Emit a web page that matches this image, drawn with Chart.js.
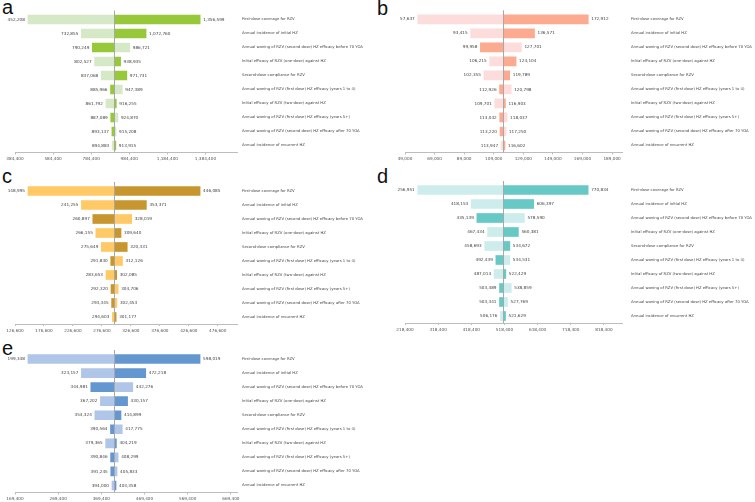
<!DOCTYPE html>
<html>
<head>
<meta charset="utf-8">
<script src="https://cdn.jsdelivr.net/npm/chart.js@4"></script>
<style>
  body { margin: 0; background: #fff; }
  #wrap { position: relative; width: 755px; height: 502px; overflow: hidden; }
  canvas { position: absolute; }
  .tag { position: absolute; font-family: "Liberation Sans", Arial, sans-serif; font-size: 20px; line-height: 20px; color: #111; }
</style>
</head>
<body>
<div id="wrap">
  <div class="tag" style="left:2px;top:-3px">a</div>
  <div class="tag" style="left:377px;top:-2px">b</div>
  <div class="tag" style="left:2px;top:166px">c</div>
  <div class="tag" style="left:377px;top:166px">d</div>
  <div class="tag" style="left:2px;top:338px">e</div>
</div>
<script>
// categories (same for every panel)
const categories = [
  "First-dose coverage for RZV",
  "Annual incidence of initial HZ",
  "Annual waning of RZV (second dose) HZ efficacy before 70 YOA",
  "Initial efficacy of RZV (one-dose) against HZ",
  "Second-dose compliance for RZV",
  "Annual waning of RZV (first dose) HZ efficacy (years 1 to 4)",
  "Initial efficacy of RZV (two-dose) against HZ",
  "Annual waning of RZV (first dose) HZ efficacy (years 5+)",
  "Annual waning of RZV (second dose) HZ efficacy after 70 YOA",
  "Annual incidence of recurrent HZ"
];
// which side carries the dark colour (true = left bar dark)
const leftDark = [false, false, true, false, false, true, false, true, true, false];

// panel a
const aLow  = [452208, 732855, 790249, 802527, 837068, 885966, 861792, 887089, 893137, 894883];
const aHigh = [1356599, 1072760, 986721, 938935, 971731, 947389, 916255, 924870, 915208, 913915];
const aBase = 904400;
const aTicks = [384400, 584400, 784400, 984400, 1184400, 1384400];

// panel b
const bLow  = [57637, 93415, 99958, 106215, 102355, 112926, 109701, 113032, 113220, 113947];
const bHigh = [172912, 136571, 127701, 124104, 119789, 120798, 116903, 118037, 117250, 116602];
const bBase = 115270;
const bTicks = [49000, 69000, 89000, 109000, 129000, 149000, 169000, 189000];

// panel c
const cLow  = [148995, 241255, 260897, 266155, 275649, 291830, 283653, 292320, 293345, 294603];
const cHigh = [446085, 353371, 328019, 309640, 320331, 312126, 302085, 304706, 302453, 301177];
const cBase = 297500;
const cTicks = [126600, 176600, 226600, 276600, 326600, 376600, 426600, 476600];

// panel d
const dLow  = [256951, 418153, 435139, 467434, 458693, 492439, 487014, 503489, 503341, 506176];
const dHigh = [770834, 606397, 578590, 560381, 534672, 534531, 522429, 538859, 527769, 521629];
const dBase = 514000;
const dTicks = [218400, 318400, 418400, 518400, 618400, 718400, 818400];

// panel e
const eLow  = [199348, 323157, 344981, 367202, 354324, 390564, 379365, 390846, 391245, 394000];
const eHigh = [598019, 472218, 442276, 430157, 414899, 417775, 404219, 408299, 405833, 403358];
const eBase = 398700;
const eTicks = [169400, 269400, 369400, 469400, 569400, 669400];

const fmt = v => Math.round(v).toLocaleString("en-US");
const smallFont = { family: "DejaVu Sans", size: 4.2 };

// labels at the ends of the bars + base line
const tornadoPlugin = {
  id: "tornado",
  afterDatasetsDraw(chart, args, opts) {
    const ctx = chart.ctx;
    const x = chart.scales.x;
    const area = chart.chartArea;
    const bx = Math.round(x.getPixelForValue(opts.base)) + 0.5;
    ctx.save();
    ctx.strokeStyle = "#a8a8a8";
    ctx.lineWidth = 1;
    ctx.beginPath();
    ctx.moveTo(bx, area.top - 2);
    ctx.lineTo(bx, area.bottom);
    ctx.stroke();

    ctx.font = "4.2px 'DejaVu Sans'";
    ctx.fillStyle = "#444";
    ctx.textBaseline = "middle";
    chart.getDatasetMeta(0).data.forEach((bar, i) => {
      ctx.textAlign = "right";
      ctx.fillText(fmt(opts.low[i]), x.getPixelForValue(opts.low[i]) - 3, bar.y);
    });
    chart.getDatasetMeta(1).data.forEach((bar, i) => {
      ctx.textAlign = "left";
      ctx.fillText(fmt(opts.high[i]), x.getPixelForValue(opts.high[i]) + 3, bar.y);
    });
    ctx.restore();
  }
};

function makePanel(p) {
  const cv = document.createElement("canvas");
  cv.width = p.w; cv.height = p.h;
  cv.style.left = p.left + "px"; cv.style.top = p.top + "px";
  document.getElementById("wrap").appendChild(cv);

  new Chart(cv.getContext("2d"), {
    type: "bar",
    data: {
      labels: categories,
      datasets: [
        {
          data: p.low.map(v => [v, p.base]),
          backgroundColor: leftDark.map(d => d ? p.dark : p.light),
          barThickness: 9, grouped: false
        },
        {
          data: p.high.map(v => [p.base, v]),
          backgroundColor: leftDark.map(d => d ? p.light : p.dark),
          barThickness: 9, grouped: false
        }
      ]
    },
    options: {
      indexAxis: "y",
      responsive: false,
      animation: false,
      devicePixelRatio: 1,
      layout: { padding: { left: p.cl, top: p.ct, right: 0, bottom: 0 } },
      plugins: {
        legend: { display: false },
        tooltip: { enabled: false },
        tornado: { base: p.base, low: p.low, high: p.high }
      },
      scales: {
        x: {
          min: p.ticks[0], max: p.max,
          afterBuildTicks: s => { s.ticks = p.ticks.map(v => ({ value: v })); },
          afterFit: s => { s.height = p.h - p.cb; },
          grid: { drawOnChartArea: false, tickLength: 2, color: "#bdbdbd" },
          border: { color: "#bdbdbd" },
          ticks: { font: smallFont, color: "#555", padding: 2, maxRotation: 0, autoSkip: false, callback: v => fmt(v) }
        },
        y: {
          position: "right",
          afterFit: s => { s.width = p.w - p.cr; },
          grid: { display: false, drawTicks: false, tickLength: 0 },
          border: { display: false },
          ticks: { font: { family: "DejaVu Sans", size: 3.8 }, color: "#444", padding: p.lp, autoSkip: false }
        }
      }
    },
    plugins: [tornadoPlugin]
  });
}

makePanel({ left: 0,   top: 0,   w: 375, h: 170, cl: 15, cr: 237, ct: 12.5, cb: 152.5, lp: 5,
  low: aLow, high: aHigh, base: aBase, ticks: aTicks, max: 1550000, dark: "#96c83a", light: "#d6e9c6" });
makePanel({ left: 375, top: 0,   w: 380, h: 170, cl: 30, cr: 247, ct: 12.3, cb: 152.5, lp: 9,
  low: bLow, high: bHigh, base: bBase, ticks: bTicks, max: 195700, dark: "#fcab90", light: "#fddcdc" });
makePanel({ left: 0,   top: 170, w: 375, h: 170, cl: 15, cr: 237, ct: 14, cb: 154, lp: 5,
  low: cLow, high: cHigh, base: cBase, ticks: cTicks, max: 509800, dark: "#c8962e", light: "#ffc966" });
makePanel({ left: 375, top: 170, w: 380, h: 170, cl: 30, cr: 247, ct: 13, cb: 153, lp: 9,
  low: dLow, high: dHigh, base: dBase, ticks: dTicks, max: 872900, dark: "#66c9c6", light: "#cdeded" });
makePanel({ left: 0,   top: 340, w: 375, h: 162, cl: 15, cr: 237, ct: 12, cb: 152.5, lp: 5,
  low: eLow, high: eHigh, base: eBase, ticks: eTicks, max: 683600, dark: "#6496d0", light: "#afc6e8" });
</script>
</body>
</html>
